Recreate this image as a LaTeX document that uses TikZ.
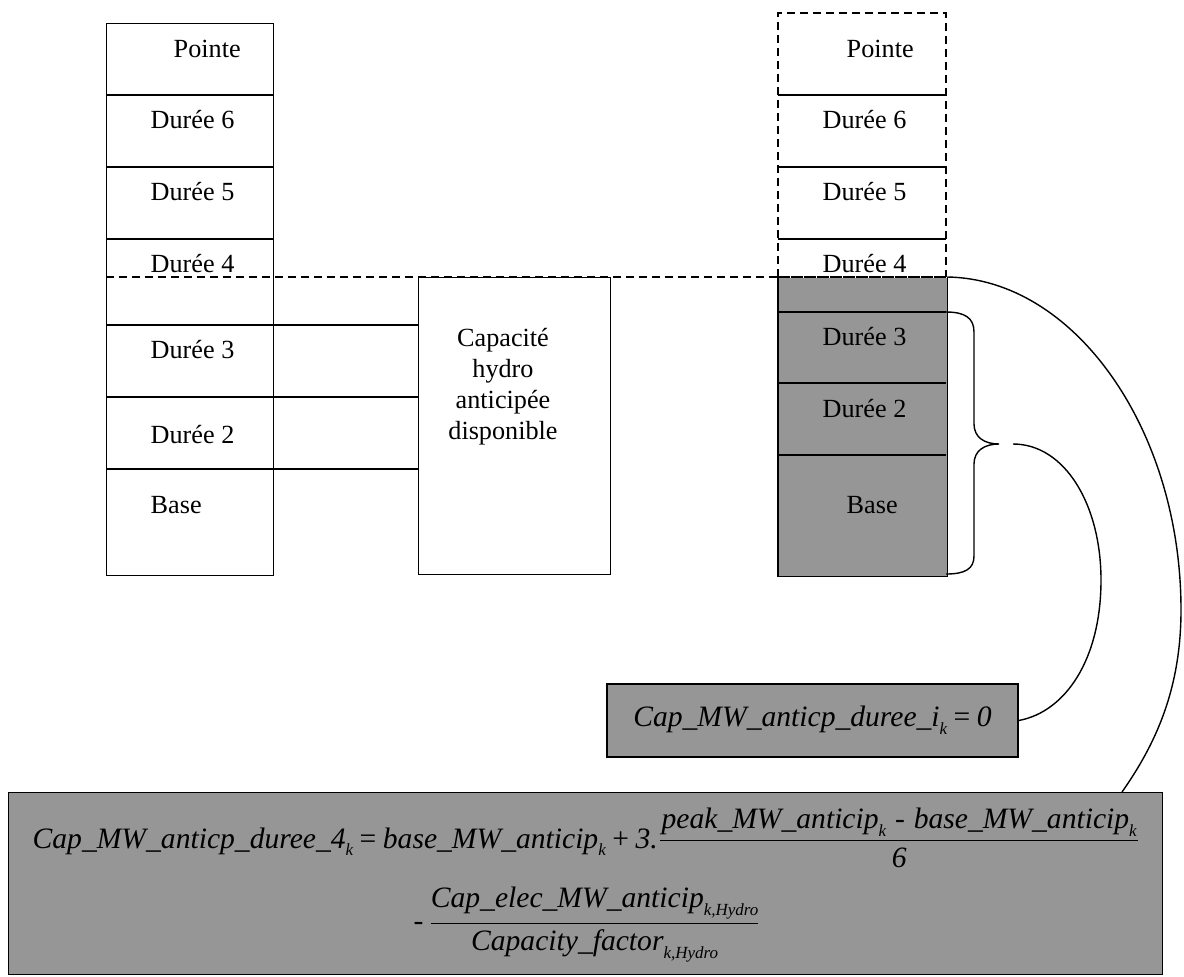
\documentclass[tikz,border=0pt]{standalone}
\usepackage{amsmath}
\usepackage{fontspec}
\setmainfont{Liberation Serif}
\definecolor{boxgray}{RGB}{150,150,150}
\newcommand\sbs[1]{\raisebox{-3.9pt}{\fontsize{8.5}{9}\selectfont\itshape #1}}
\newcommand\opsp{\hspace{0.22em}}
\begin{document}
\begin{tikzpicture}[x=0.5pt,y=-0.5pt, line width=0.7pt,
  lab/.style={font=\fontsize{13.1}{15.4}\selectfont, inner sep=0pt, anchor=base west},
  dsh/.style={dash pattern=on 4pt off 2.5pt},
  eqf/.style={font=\fontsize{14.8}{17}\selectfont},
  box/.style={draw, inner sep=0pt, anchor=north west}]
\useasboundingbox (0,0) rectangle (1184,976);

% dashed level line
\draw[dsh] (106,277) -- (946,277);

% left column
\node[box, minimum width=83.5pt, minimum height=276pt] (L) at (106,23) {};
\foreach \yy in {95,167,239,325,397,469} \draw (106,\yy) -- (273,\yy);
\node[lab] (lp) at (173,57) {Pointe};
\node[lab] (l6) at (150,128) {Durée 6};
\node[lab] (l5) at (150,200) {Durée 5};
\node[lab] (l4) at (150,272) {Durée 4};
\node[lab] (l3) at (150,358) {Durée 3};
\node[lab] (l2) at (150,443) {Durée 2};
\node[lab] (lb) at (150,513) {Base};

% middle box
\node[box, minimum width=96pt, minimum height=148.5pt] (M) at (418,277) {};
\node[font=\fontsize{13.1}{15.4}\selectfont, inner sep=0pt, align=center, anchor=north] (Mt) at (503,328) {Capacité\\hydro\\anticipée\\disponible};
\foreach \yy in {325,397,469} \draw (L.east |- 0,\yy) -- (M.west |- 0,\yy);

% right column, upper (dashed) part
\draw[dsh] (778,277) -- (778,13) -- (946,13) -- (946,277);
\foreach \yy in {95,167,239} \draw (778,\yy) -- (946,\yy);
% right column, lower (grey) part
\node[fill=boxgray, inner sep=0pt, anchor=north west, minimum width=84pt, minimum height=149pt] (RG) at (778,277) {};
\draw (RG.north west) -- (RG.south west) -- (RG.south east) -- (RG.north east);
\draw[dsh] (778,277) -- (946,277);
\foreach \yy in {312,383,455} \draw (778,\yy) -- (946,\yy);
\node[lab] (rp) at (846,57) {Pointe};
\node[lab] (r6) at (822,128) {Durée 6};
\node[lab] (r5) at (822,200) {Durée 5};
\node[lab] (r4) at (822,272) {Durée 4};
\node[lab] (r3) at (822,345) {Durée 3};
\node[lab] (r2) at (822,417) {Durée 2};
\node[lab] (rb) at (846,513) {Base};

% brace
\coordinate (btop) at (946,312);
\coordinate (bbot) at (946,574);
\coordinate (tip) at (999,444);
\draw (btop) .. controls (965,312) and (974,318) .. (974,332) -- (974,424)
  .. controls (974,437) and (984,444) .. (tip)
  .. controls (984,444) and (974,451) .. (974,464) -- (974,556)
  .. controls (974,569) and (965,574) .. (bbot);

% small formula box
\node[draw, fill=boxgray, eqf, inner sep=0pt, minimum width=205.5pt, minimum height=36.5pt] (S) at (812.5,720.5)
  {\textit{Cap\_MW\_anticp\_duree\_i}\sbs{k}\opsp=\opsp\textit{0}};

% big formula box
\node[box, fill=boxgray, minimum width=577pt, minimum height=91pt] (B) at (8,792) {};
\node[eqf, inner sep=0pt, anchor=base west] (e1) at (32,848)
  {\textit{Cap\_MW\_anticp\_duree\_4}\sbs{k}\opsp=\opsp\textit{base\_MW\_anticip}\sbs{k}\opsp+\opsp\textit{3.}$\dfrac{\mbox{\hspace{0.05em}\textit{peak\_MW\_anticip}\sbs{k}\hspace{0.3em}-\hspace{0.3em}\textit{base\_MW\_anticip}\sbs{k}\hspace{0.05em}}}{\mbox{\textit{6}}}$};
\node[eqf, inner sep=0pt, anchor=base west] (e2) at (413,930.5)
  {-\,$\dfrac{\mbox{\textit{Cap\_elec\_MW\_anticip}\sbs{k,Hydro}}}{\mbox{\textit{Capacity\_factor}\sbs{k,Hydro}}}$};

% connecting arcs
\coordinate (arcS) at (1013,444);
\draw (arcS) .. controls (1065,444) and (1101,505) .. (1101,580)
  .. controls (1101,660) and (1065,712) .. (S.east);
\coordinate (bigEnd) at (1122,792);
\draw (RG.north east) .. controls (1075,279) and (1181,430) .. (1181,610)
  .. controls (1181,690) and (1155,745) .. (bigEnd);
\end{tikzpicture}
\end{document}
